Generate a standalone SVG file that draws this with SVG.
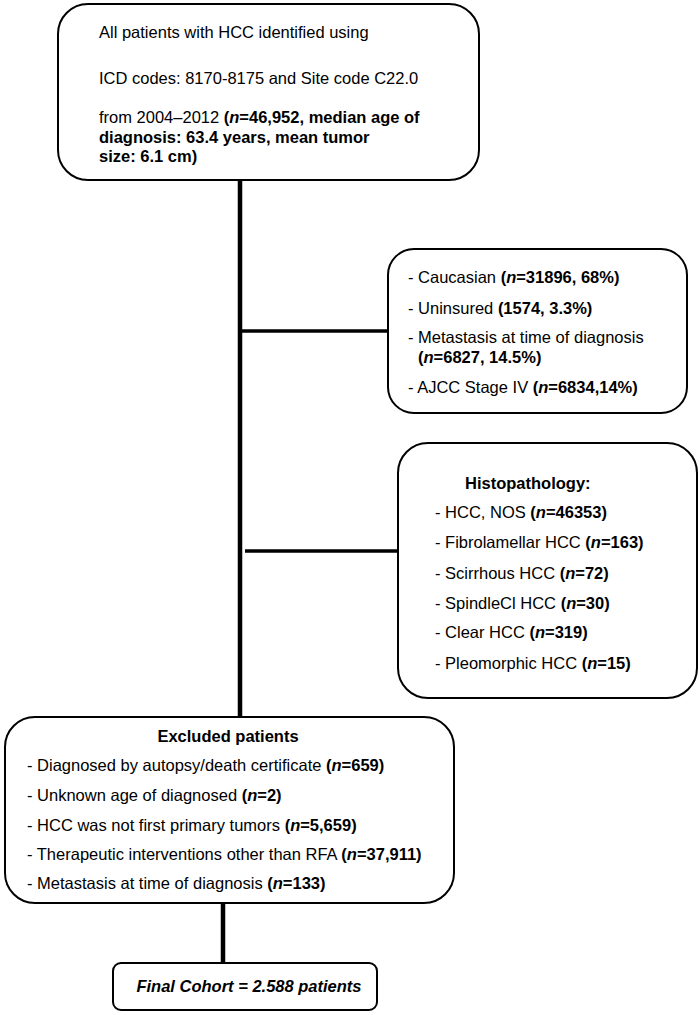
<svg xmlns="http://www.w3.org/2000/svg" width="700" height="1015" viewBox="0 0 700 1015">
<style>
.box{fill:#fff;stroke:#000;stroke-width:2}
text{font-family:"Liberation Sans",Arial,sans-serif;font-size:16.5px;fill:#000}
.b{font-weight:bold}
.i{font-style:italic}
.conn{stroke:#000;fill:none}
</style>
<rect width="700" height="1015" fill="#fff"/>
<g id="connectors">
<line class="conn" x1="240" y1="181" x2="240" y2="717" stroke-width="4.5"/>
<line class="conn" x1="242" y1="331" x2="388" y2="331" stroke-width="3.5"/>
<line class="conn" x1="245" y1="551" x2="398" y2="551" stroke-width="3.5"/>
<line class="conn" x1="223" y1="903" x2="223" y2="963" stroke-width="4.5"/>
</g>
<g id="node-all">
<rect class="box" x="58" y="4" width="421" height="176" rx="30"/>
<text x="99" y="38">All patients with HCC identified using</text>
<text x="99" y="84">ICD codes: 8170-8175 and Site code C22.0</text>
<text x="99" y="123">from 2004–2012 <tspan class="b">(<tspan class="i">n</tspan>=46,952, median age of</tspan></text>
<text x="99" y="143" class="b">diagnosis: 63.4 years, mean tumor</text>
<text x="99" y="162" class="b">size: 6.1 cm)</text>
</g>
<g id="node-demographics">
<rect class="box" x="388" y="249" width="299" height="164" rx="26"/>
<text x="408" y="283">- Caucasian <tspan class="b">(<tspan class="i">n</tspan>=31896, 68%)</tspan></text>
<text x="408" y="314">- Uninsured <tspan class="b">(1574, 3.3%)</tspan></text>
<text x="408" y="343">- Metastasis at time of diagnosis</text>
<text x="418" y="363" class="b">(<tspan class="i">n</tspan>=6827, 14.5%)</text>
<text x="408" y="393">- AJCC Stage IV <tspan class="b">(<tspan class="i">n</tspan>=6834,14%)</tspan></text>
</g>
<g id="node-histopathology">
<rect class="box" x="398" y="443" width="299" height="255" rx="30"/>
<text x="465" y="489" class="b">Histopathology:</text>
<text x="435" y="518">- HCC, NOS <tspan class="b">(<tspan class="i">n</tspan>=46353)</tspan></text>
<text x="435" y="548">- Fibrolamellar HCC <tspan class="b">(<tspan class="i">n</tspan>=163)</tspan></text>
<text x="435" y="579">- Scirrhous HCC <tspan class="b">(<tspan class="i">n</tspan>=72)</tspan></text>
<text x="435" y="609">- SpindleCl HCC <tspan class="b">(<tspan class="i">n</tspan>=30)</tspan></text>
<text x="435" y="638">- Clear HCC <tspan class="b">(<tspan class="i">n</tspan>=319)</tspan></text>
<text x="435" y="669">- Pleomorphic HCC <tspan class="b">(<tspan class="i">n</tspan>=15)</tspan></text>
</g>
<g id="node-excluded">
<rect class="box" x="5" y="717" width="449" height="186" rx="30"/>
<text x="228" y="742" class="b" text-anchor="middle">Excluded patients</text>
<text x="27" y="771">- Diagnosed by autopsy/death certificate <tspan class="b">(<tspan class="i">n</tspan>=659)</tspan></text>
<text x="27" y="801">- Unknown age of diagnosed <tspan class="b">(<tspan class="i">n</tspan>=2)</tspan></text>
<text x="27" y="831">- HCC was not first primary tumors <tspan class="b">(<tspan class="i">n</tspan>=5,659)</tspan></text>
<text x="27" y="860">- Therapeutic interventions other than RFA <tspan class="b">(<tspan class="i">n</tspan>=37,911)</tspan></text>
<text x="27" y="889">- Metastasis at time of diagnosis <tspan class="b">(<tspan class="i">n</tspan>=133)</tspan></text>
</g>
<g id="node-final">
<rect class="box" x="113" y="963" width="264" height="47" rx="8"/>
<text x="249" y="992" class="b i" text-anchor="middle">Final Cohort = 2.588 patients</text>
</g>
</svg>
